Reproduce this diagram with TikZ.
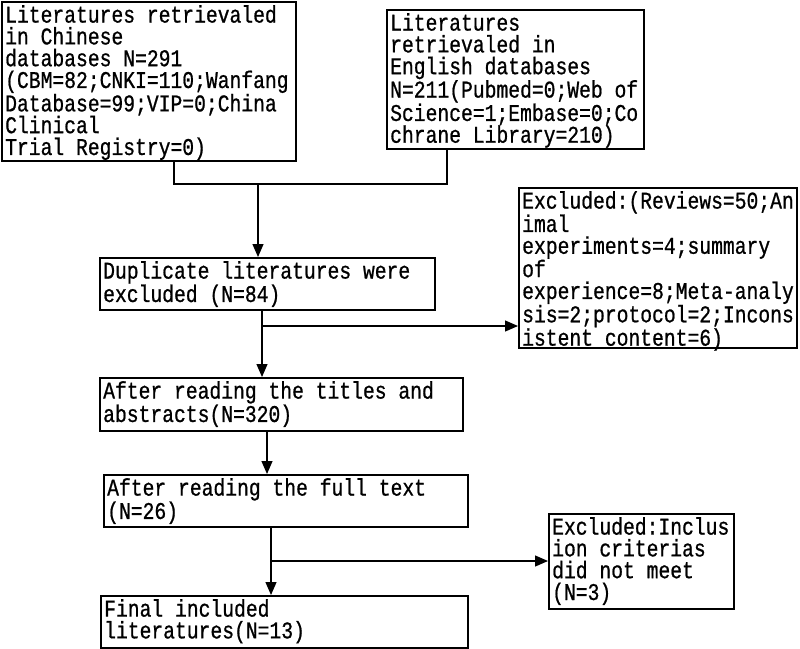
\documentclass[tikz,border=0pt]{standalone}
\usepackage{fontspec}
\setmonofont[FakeStretch=0.82,FakeBold=0.8]{Liberation Mono}
\usetikzlibrary{arrows.meta}
\begin{document}
\begin{tikzpicture}[x=1pt,y=-1pt,
  box/.style={draw, line width=2pt, inner sep=0pt, anchor=north west},
  txt/.style={font=\ttfamily\fontsize{24}{21.8}\selectfont, align=left, inner sep=0pt, anchor=north west},
  conn/.style={line width=1.2pt},
  arr/.style={conn, -{Triangle[length=13pt,width=11pt]}}]
\useasboundingbox (0,0) rectangle (800,648);
% boxes
\node[box, minimum width=294pt, minimum height=159pt] (b1) at (1,1) {};
\node[box, minimum width=257pt, minimum height=139pt] (b2) at (386,9) {};
\node[box, minimum width=335pt, minimum height=52pt] (b3) at (99,257) {};
\node[box, minimum width=278pt, minimum height=160pt] (ex1) at (518,187) {};
\node[box, minimum width=363pt, minimum height=53pt] (b4) at (99,377) {};
\node[box, minimum width=364pt, minimum height=52pt] (b5) at (103,474) {};
\node[box, minimum width=185pt, minimum height=95pt] (ex2) at (548,513) {};
\node[box, minimum width=367pt, minimum height=52pt] (b6) at (100,595) {};
% texts
\node[txt] (t1) at (5,5) {Literatures retrievaled\\in Chinese\\databases N=291\\(CBM=82;CNKI=110;Wanfang\\Database=99;VIP=0;China\\Clinical\\Trial Registry=0)};
\node[txt] (t2) at (390,13) {Literatures\\retrievaled in\\English databases\\N=211(Pubmed=0;Web of\\Science=1;Embase=0;Co\\chrane Library=210)};
\node[txt] (t3) at (103,261) {Duplicate literatures were\\excluded (N=84)};
\node[txt] (tex1) at (522,191) {Excluded:(Reviews=50;An\\imal\\experiments=4;summary\\of\\experience=8;Meta-analy\\sis=2;protocol=2;Incons\\istent content=6)};
\node[txt] (t4) at (103,381) {After reading the titles and\\abstracts(N=320)};
\node[txt] (t5) at (107,478) {After reading the full text\\(N=26)};
\node[txt] (tex2) at (552,517) {Excluded:Inclus\\ion criterias\\did not meet\\(N=3)};
\node[txt] (t6) at (104,599) {Final included\\literatures(N=13)};
% connectors
\coordinate (j1) at (258,184);
\coordinate (c1) at ([xshift=25pt]b1.south);
\coordinate (c2) at ([xshift=-68.5pt]b2.south);
\draw[conn] (c1) |- (c2 |- j1) -- (c2);
\draw[arr] (j1) -- (j1 |- b3.north);
\coordinate (c3) at ([xshift=-5.5pt]b3.south);
\draw[arr] (c3) -- (c3 |- b4.north);
\coordinate (br1) at (261,326);
\draw[arr] (br1) -- (br1 -| ex1.west);
\coordinate (c4) at ([xshift=-14.5pt]b4.south);
\draw[arr] (c4) -- (c4 |- b5.north);
\coordinate (c5) at ([xshift=-15pt]b5.south);
\draw[arr] (c5) -- (c5 |- b6.north);
\coordinate (br2) at (270,561);
\draw[arr] (br2) -- (br2 -| ex2.west);
\end{tikzpicture}
\end{document}
